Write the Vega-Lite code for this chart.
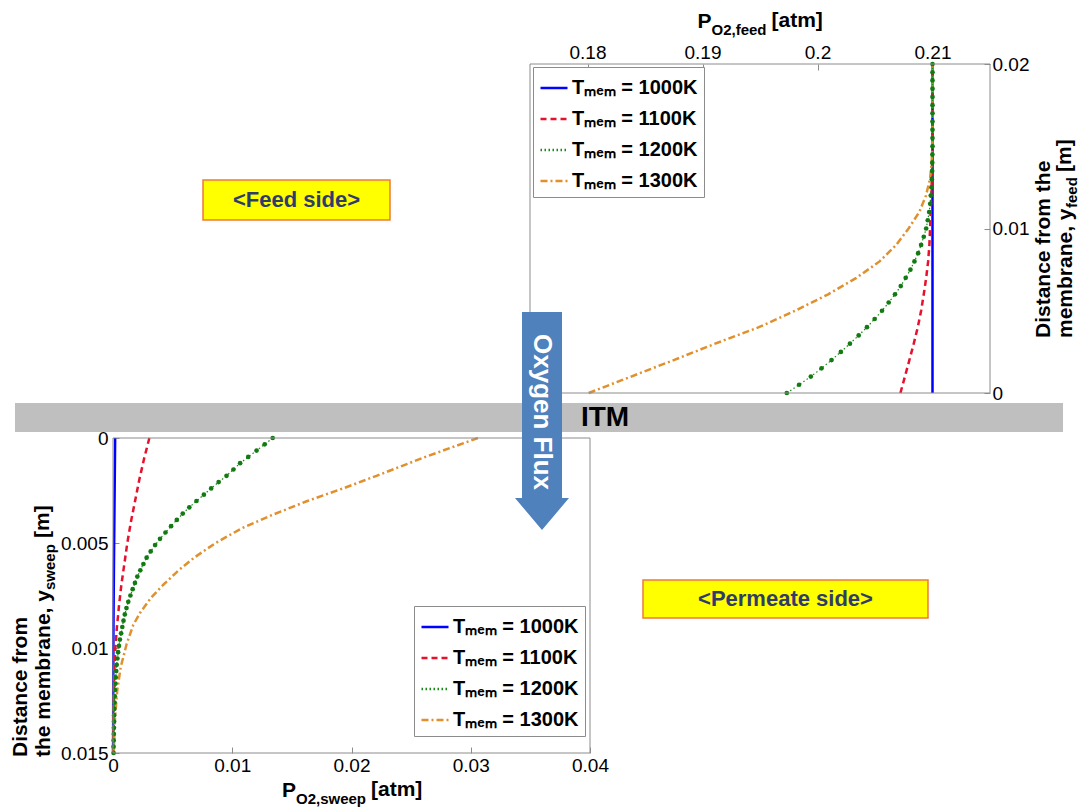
{
  "$schema": "https://vega.github.io/schema/vega-lite/v6.json",
  "width": 1079,
  "height": 811,
  "padding": 0,
  "autosize": {"type": "none"},
  "background": "white",
  "config": {
    "font": "Liberation Sans",
    "view": {"stroke": null},
    "axis": {
      "domain": false,
      "grid": false,
      "ticks": true,
      "tickSize": -6,
      "tickColor": "#8c8c8c",
      "labelPadding": 8,
      "labelFont": "Liberation Sans",
      "labelFontSize": 19,
      "labelColor": "black",
      "labelFlush": false,
      "labelOverlap": false,
      "labelBound": false
    }
  },
  "datasets": {
    "feed": [
      {"T": "1000K", "d": 0, "p": 0.21}, {"T": "1000K", "d": 0.02, "p": 0.21},
      {"T": "1100K", "d": 0, "p": 0.20721}, {"T": "1100K", "d": 0.001, "p": 0.2076}, {"T": "1100K", "d": 0.002, "p": 0.20799},
      {"T": "1100K", "d": 0.003, "p": 0.20837}, {"T": "1100K", "d": 0.004, "p": 0.20872}, {"T": "1100K", "d": 0.005, "p": 0.20901},
      {"T": "1100K", "d": 0.006, "p": 0.20924}, {"T": "1100K", "d": 0.007, "p": 0.20945}, {"T": "1100K", "d": 0.008, "p": 0.20962},
      {"T": "1100K", "d": 0.009, "p": 0.20973}, {"T": "1100K", "d": 0.0107, "p": 0.20983}, {"T": "1100K", "d": 0.0123, "p": 0.20991},
      {"T": "1100K", "d": 0.014, "p": 0.20997}, {"T": "1100K", "d": 0.016, "p": 0.21}, {"T": "1100K", "d": 0.02, "p": 0.21},
      {"T": "1200K", "d": 0, "p": 0.19733}, {"T": "1200K", "d": 0.0005, "p": 0.1984}, {"T": "1200K", "d": 0.001, "p": 0.19942},
      {"T": "1200K", "d": 0.0015, "p": 0.20035}, {"T": "1200K", "d": 0.002, "p": 0.20122}, {"T": "1200K", "d": 0.0025, "p": 0.20203},
      {"T": "1200K", "d": 0.003, "p": 0.20282}, {"T": "1200K", "d": 0.0035, "p": 0.20358}, {"T": "1200K", "d": 0.004, "p": 0.2043},
      {"T": "1200K", "d": 0.0045, "p": 0.20497}, {"T": "1200K", "d": 0.005, "p": 0.20561}, {"T": "1200K", "d": 0.0055, "p": 0.20619},
      {"T": "1200K", "d": 0.006, "p": 0.20674}, {"T": "1200K", "d": 0.0065, "p": 0.20724}, {"T": "1200K", "d": 0.007, "p": 0.20767},
      {"T": "1200K", "d": 0.0075, "p": 0.20808}, {"T": "1200K", "d": 0.008, "p": 0.20843}, {"T": "1200K", "d": 0.0085, "p": 0.20875},
      {"T": "1200K", "d": 0.009, "p": 0.20901}, {"T": "1200K", "d": 0.0095, "p": 0.20924}, {"T": "1200K", "d": 0.01, "p": 0.20945},
      {"T": "1200K", "d": 0.0105, "p": 0.20959}, {"T": "1200K", "d": 0.011, "p": 0.20971}, {"T": "1200K", "d": 0.0115, "p": 0.2098},
      {"T": "1200K", "d": 0.012, "p": 0.20985}, {"T": "1200K", "d": 0.0125, "p": 0.20991}, {"T": "1200K", "d": 0.013, "p": 0.20994},
      {"T": "1200K", "d": 0.0135, "p": 0.20997}, {"T": "1200K", "d": 0.014, "p": 0.20998}, {"T": "1200K", "d": 0.0145, "p": 0.20999},
      {"T": "1200K", "d": 0.015, "p": 0.21}, {"T": "1200K", "d": 0.0155, "p": 0.21}, {"T": "1200K", "d": 0.016, "p": 0.21},
      {"T": "1200K", "d": 0.0165, "p": 0.21}, {"T": "1200K", "d": 0.017, "p": 0.21}, {"T": "1200K", "d": 0.0175, "p": 0.21},
      {"T": "1200K", "d": 0.018, "p": 0.21}, {"T": "1200K", "d": 0.0185, "p": 0.21}, {"T": "1200K", "d": 0.019, "p": 0.21},
      {"T": "1200K", "d": 0.0195, "p": 0.21}, {"T": "1200K", "d": 0.02, "p": 0.21},
      {"T": "1300K", "d": 0, "p": 0.1801}, {"T": "1300K", "d": 0.001, "p": 0.1838}, {"T": "1300K", "d": 0.002, "p": 0.1875},
      {"T": "1300K", "d": 0.003, "p": 0.1911}, {"T": "1300K", "d": 0.004, "p": 0.1949}, {"T": "1300K", "d": 0.005, "p": 0.19806},
      {"T": "1300K", "d": 0.006, "p": 0.20093}, {"T": "1300K", "d": 0.007, "p": 0.20338}, {"T": "1300K", "d": 0.008, "p": 0.2054},
      {"T": "1300K", "d": 0.009, "p": 0.20684}, {"T": "1300K", "d": 0.01, "p": 0.20792}, {"T": "1300K", "d": 0.011, "p": 0.20885},
      {"T": "1300K", "d": 0.012, "p": 0.20943}, {"T": "1300K", "d": 0.013, "p": 0.20978}, {"T": "1300K", "d": 0.014, "p": 0.20993},
      {"T": "1300K", "d": 0.015, "p": 0.20999}, {"T": "1300K", "d": 0.016, "p": 0.21}, {"T": "1300K", "d": 0.02, "p": 0.21}
    ],
    "sweep": [
      {"T": "1000K", "d": 0, "p": 0.00018}, {"T": "1000K", "d": 0.003, "p": 0.00013}, {"T": "1000K", "d": 0.006, "p": 0.00008},
      {"T": "1000K", "d": 0.009, "p": 0.00004}, {"T": "1000K", "d": 0.012, "p": 0.00002}, {"T": "1000K", "d": 0.015, "p": 0.00001},
      {"T": "1100K", "d": 0, "p": 0.00305}, {"T": "1100K", "d": 0.001, "p": 0.0026}, {"T": "1100K", "d": 0.002, "p": 0.0022},
      {"T": "1100K", "d": 0.003, "p": 0.00185}, {"T": "1100K", "d": 0.004, "p": 0.0015}, {"T": "1100K", "d": 0.005, "p": 0.0012},
      {"T": "1100K", "d": 0.006, "p": 0.00095}, {"T": "1100K", "d": 0.007, "p": 0.0007}, {"T": "1100K", "d": 0.008, "p": 0.0005},
      {"T": "1100K", "d": 0.009, "p": 0.00033}, {"T": "1100K", "d": 0.01, "p": 0.0002}, {"T": "1100K", "d": 0.011, "p": 0.00012},
      {"T": "1100K", "d": 0.012, "p": 0.00007}, {"T": "1100K", "d": 0.013, "p": 0.00004}, {"T": "1100K", "d": 0.014, "p": 0.00002},
      {"T": "1100K", "d": 0.015, "p": 0.00001},
      {"T": "1200K", "d": 0, "p": 0.01339}, {"T": "1200K", "d": 0.0003, "p": 0.01272}, {"T": "1200K", "d": 0.0006, "p": 0.01204},
      {"T": "1200K", "d": 0.0009, "p": 0.01134}, {"T": "1200K", "d": 0.0012, "p": 0.01066}, {"T": "1200K", "d": 0.0015, "p": 0.0101},
      {"T": "1200K", "d": 0.0018, "p": 0.00952}, {"T": "1200K", "d": 0.0021, "p": 0.00886}, {"T": "1200K", "d": 0.0024, "p": 0.00823},
      {"T": "1200K", "d": 0.0027, "p": 0.00762}, {"T": "1200K", "d": 0.003, "p": 0.007}, {"T": "1200K", "d": 0.0033, "p": 0.0064},
      {"T": "1200K", "d": 0.0036, "p": 0.00585}, {"T": "1200K", "d": 0.0039, "p": 0.00535}, {"T": "1200K", "d": 0.0042, "p": 0.00487},
      {"T": "1200K", "d": 0.0045, "p": 0.0044}, {"T": "1200K", "d": 0.0048, "p": 0.00394}, {"T": "1200K", "d": 0.0051, "p": 0.00353},
      {"T": "1200K", "d": 0.0054, "p": 0.00316}, {"T": "1200K", "d": 0.0057, "p": 0.00282}, {"T": "1200K", "d": 0.006, "p": 0.00255},
      {"T": "1200K", "d": 0.0063, "p": 0.00229}, {"T": "1200K", "d": 0.0066, "p": 0.00204}, {"T": "1200K", "d": 0.0069, "p": 0.00184},
      {"T": "1200K", "d": 0.0072, "p": 0.00165}, {"T": "1200K", "d": 0.0075, "p": 0.00146}, {"T": "1200K", "d": 0.0078, "p": 0.00128},
      {"T": "1200K", "d": 0.0081, "p": 0.00113}, {"T": "1200K", "d": 0.0084, "p": 0.00099}, {"T": "1200K", "d": 0.0087, "p": 0.00088},
      {"T": "1200K", "d": 0.009, "p": 0.00078}, {"T": "1200K", "d": 0.0093, "p": 0.00068}, {"T": "1200K", "d": 0.0096, "p": 0.00058},
      {"T": "1200K", "d": 0.0099, "p": 0.0005}, {"T": "1200K", "d": 0.0102, "p": 0.00043}, {"T": "1200K", "d": 0.0105, "p": 0.00037},
      {"T": "1200K", "d": 0.0108, "p": 0.00031}, {"T": "1200K", "d": 0.0111, "p": 0.00027}, {"T": "1200K", "d": 0.0114, "p": 0.00023},
      {"T": "1200K", "d": 0.0117, "p": 0.0002}, {"T": "1200K", "d": 0.012, "p": 0.00017}, {"T": "1200K", "d": 0.0123, "p": 0.00015},
      {"T": "1200K", "d": 0.0126, "p": 0.00013}, {"T": "1200K", "d": 0.0129, "p": 0.00011}, {"T": "1200K", "d": 0.0132, "p": 0.0001},
      {"T": "1200K", "d": 0.0135, "p": 0.00009}, {"T": "1200K", "d": 0.0138, "p": 0.00008}, {"T": "1200K", "d": 0.0141, "p": 0.00007},
      {"T": "1200K", "d": 0.0144, "p": 0.00006}, {"T": "1200K", "d": 0.0147, "p": 0.00005}, {"T": "1200K", "d": 0.015, "p": 0.00005},
      {"T": "1300K", "d": 0, "p": 0.0306}, {"T": "1300K", "d": 0.0009, "p": 0.0262}, {"T": "1300K", "d": 0.0018, "p": 0.0221},
      {"T": "1300K", "d": 0.0024, "p": 0.0193}, {"T": "1300K", "d": 0.003, "p": 0.0163}, {"T": "1300K", "d": 0.0037, "p": 0.0132},
      {"T": "1300K", "d": 0.0043, "p": 0.0108}, {"T": "1300K", "d": 0.005, "p": 0.0086}, {"T": "1300K", "d": 0.0057, "p": 0.0068},
      {"T": "1300K", "d": 0.0063, "p": 0.0055}, {"T": "1300K", "d": 0.007, "p": 0.0042}, {"T": "1300K", "d": 0.0076, "p": 0.0032},
      {"T": "1300K", "d": 0.0083, "p": 0.0023}, {"T": "1300K", "d": 0.0089, "p": 0.0017}, {"T": "1300K", "d": 0.0098, "p": 0.00115},
      {"T": "1300K", "d": 0.0109, "p": 0.00065}, {"T": "1300K", "d": 0.012, "p": 0.00036}, {"T": "1300K", "d": 0.0133, "p": 0.00017},
      {"T": "1300K", "d": 0.0147, "p": 0.00008}, {"T": "1300K", "d": 0.015, "p": 0.00007}
    ]
  },
  "layer": [
    {
      "layer": [
        {
          "data": {"name": "feed"},
          "transform": [{"filter": "datum.T !== '1200K'"}],
          "mark": {"type": "line", "strokeWidth": 2.5, "strokeCap": "butt"},
          "encoding": {
            "x": {"field": "p", "type": "quantitative",
              "scale": {"domain": [0.175, 0.215], "range": [530, 990], "zero": false, "nice": false},
              "axis": {"orient": "top", "offset": -64, "values": [0.18, 0.19, 0.2, 0.21], "format": ".2~f", "title": null}},
            "y": {"field": "d", "type": "quantitative",
              "scale": {"domain": [0, 0.02], "range": [393, 64], "zero": false, "nice": false},
              "axis": {"orient": "right", "offset": -89, "values": [0, 0.01, 0.02], "format": "~g", "title": null}},
            "order": {"field": "d", "type": "quantitative"},
            "color": {"field": "T", "type": "nominal",
              "scale": {"domain": ["1000K", "1100K", "1200K", "1300K"], "range": ["#0000ff", "#e8112d", "#178a17", "#e0902c"]},
              "legend": {"orient": "none", "legendX": 533, "legendY": 67, "title": null, "symbolType": "stroke", "symbolSize": 729, "symbolStrokeWidth": 2.5,
                "labelFont": "Liberation Sans", "labelFontSize": 20, "labelFontWeight": "bold", "labelColor": "black", "labelLimit": 400,
                "labelExpr": "'T\u2098\u2091\u2098 = ' + datum.label", "fillColor": "white", "strokeColor": "#8c8c8c", "padding": 6, "rowPadding": 6, "labelOffset": 3}},
            "strokeDash": {"field": "T", "type": "nominal",
              "scale": {"domain": ["1000K", "1100K", "1200K", "1300K"], "range": [[1, 0], [6, 4], [1.5, 2.5], [7, 3, 2, 3]]},
              "legend": {"orient": "none", "legendX": 533, "legendY": 67, "title": null, "symbolType": "stroke", "symbolSize": 729, "symbolStrokeWidth": 2.5,
                "labelFont": "Liberation Sans", "labelFontSize": 20, "labelFontWeight": "bold", "labelColor": "black", "labelLimit": 400,
                "labelExpr": "'T\u2098\u2091\u2098 = ' + datum.label", "fillColor": "white", "strokeColor": "#8c8c8c", "padding": 6, "rowPadding": 6, "labelOffset": 3}}
          }
        },
        {
          "data": {"name": "feed"},
          "transform": [{"filter": "datum.T === '1200K'"}],
          "mark": {"type": "line", "strokeWidth": 1.2},
          "encoding": {
            "x": {"field": "p", "type": "quantitative"},
            "y": {"field": "d", "type": "quantitative"},
            "order": {"field": "d", "type": "quantitative"},
            "color": {"field": "T", "type": "nominal"},
            "strokeDash": {"field": "T", "type": "nominal"}
          }
        },
        {
          "data": {"name": "feed"},
          "transform": [{"filter": "datum.T === '1200K'"}],
          "mark": {"type": "circle", "size": 22, "color": "#127a12", "opacity": 1},
          "encoding": {
            "x": {"field": "p", "type": "quantitative"},
            "y": {"field": "d", "type": "quantitative"}
          }
        },
        {
          "data": {"values": [{}]},
          "mark": {"type": "rect", "filled": false, "stroke": "#8c8c8c", "strokeWidth": 1},
          "encoding": {
            "x": {"datum": 0.175, "type": "quantitative"}, "x2": {"datum": 0.215},
            "y": {"datum": 0, "type": "quantitative"}, "y2": {"datum": 0.02}
          }
        },
        {
          "data": {"values": [{}]},
          "mark": {"type": "rect", "fill": "#ffff00", "stroke": "#ee7a3a", "strokeWidth": 1.5},
          "encoding": {
            "x": {"datum": 0.146565, "type": "quantitative"}, "x2": {"datum": 0.162826},
            "y": {"datum": 0.012948, "type": "quantitative"}, "y2": {"datum": 0.010517}
          }
        },
        {
          "data": {"values": [{}]},
          "mark": {"type": "text", "text": "<Feed side>", "font": "Liberation Sans", "fontSize": 22, "fontWeight": "bold", "color": "#2f3b6b", "align": "center", "baseline": "middle"},
          "encoding": {"x": {"datum": 0.154696, "type": "quantitative"}, "y": {"datum": 0.011733, "type": "quantitative"}}
        },
        {
          "data": {"values": [{}]},
          "mark": {"type": "text", "text": "P", "font": "Liberation Sans", "fontSize": 21, "fontWeight": "bold", "color": "black", "align": "left", "baseline": "alphabetic"},
          "encoding": {"x": {"datum": 0.189565, "type": "quantitative"}, "y": {"datum": 0.022188, "type": "quantitative"}}
        },
        {
          "data": {"values": [{}]},
          "mark": {"type": "text", "text": "O2,feed", "font": "Liberation Sans", "fontSize": 15, "fontWeight": "bold", "color": "black", "align": "left", "baseline": "alphabetic", "dx": 14, "dy": 7},
          "encoding": {"x": {"datum": 0.189565, "type": "quantitative"}, "y": {"datum": 0.022188, "type": "quantitative"}}
        },
        {
          "data": {"values": [{}]},
          "mark": {"type": "text", "text": "[atm]", "font": "Liberation Sans", "fontSize": 21, "fontWeight": "bold", "color": "black", "align": "left", "baseline": "alphabetic", "dx": 74, "dy": -1},
          "encoding": {"x": {"datum": 0.189565, "type": "quantitative"}, "y": {"datum": 0.022188, "type": "quantitative"}}
        },
        {
          "data": {"values": [{}]},
          "mark": {"type": "text", "text": "Distance from the", "font": "Liberation Sans", "fontSize": 21, "fontWeight": "bold", "color": "black", "align": "left", "baseline": "alphabetic", "angle": 270},
          "encoding": {"x": {"datum": 0.220174, "type": "quantitative"}, "y": {"datum": 0.003343, "type": "quantitative"}}
        },
        {
          "data": {"values": [{}]},
          "mark": {"type": "text", "text": "membrane, y", "font": "Liberation Sans", "fontSize": 21, "fontWeight": "bold", "color": "black", "align": "left", "baseline": "alphabetic", "angle": 270},
          "encoding": {"x": {"datum": 0.222087, "type": "quantitative"}, "y": {"datum": 0.003343, "type": "quantitative"}}
        },
        {
          "data": {"values": [{}]},
          "mark": {"type": "text", "text": "feed", "font": "Liberation Sans", "fontSize": 15, "fontWeight": "bold", "color": "black", "align": "left", "baseline": "alphabetic", "angle": 270, "dx": 130, "dy": 5},
          "encoding": {"x": {"datum": 0.222087, "type": "quantitative"}, "y": {"datum": 0.003343, "type": "quantitative"}}
        },
        {
          "data": {"values": [{}]},
          "mark": {"type": "text", "text": "[m]", "font": "Liberation Sans", "fontSize": 21, "fontWeight": "bold", "color": "black", "align": "left", "baseline": "alphabetic", "angle": 270, "dx": 166, "dy": -1},
          "encoding": {"x": {"datum": 0.222087, "type": "quantitative"}, "y": {"datum": 0.003343, "type": "quantitative"}}
        }
      ]
    },
    {
      "layer": [
        {
          "data": {"name": "sweep"},
          "transform": [{"filter": "datum.T !== '1200K'"}],
          "mark": {"type": "line", "strokeWidth": 2.5, "strokeCap": "butt"},
          "encoding": {
            "x": {"field": "p", "type": "quantitative",
              "scale": {"domain": [0, 0.04], "range": [113, 590], "zero": false, "nice": false},
              "axis": {"orient": "bottom", "offset": -58, "values": [0, 0.01, 0.02, 0.03, 0.04], "format": "~g", "title": null, "labelPadding": 9}},
            "y": {"field": "d", "type": "quantitative",
              "scale": {"domain": [0, 0.015], "range": [438, 753], "zero": false, "nice": false},
              "axis": {"orient": "left", "offset": -113, "values": [0, 0.005, 0.01, 0.015], "format": "~g", "title": null, "labelPadding": 11}},
            "order": {"field": "d", "type": "quantitative"},
            "color": {"field": "T", "type": "nominal",
              "scale": {"domain": ["1000K", "1100K", "1200K", "1300K"], "range": ["#0000ff", "#e8112d", "#178a17", "#e0902c"]},
              "legend": {"orient": "none", "legendX": 414, "legendY": 606, "title": null, "symbolType": "stroke", "symbolSize": 729, "symbolStrokeWidth": 2.5,
                "labelFont": "Liberation Sans", "labelFontSize": 20, "labelFontWeight": "bold", "labelColor": "black", "labelLimit": 400,
                "labelExpr": "'T\u2098\u2091\u2098 = ' + datum.label", "fillColor": "white", "strokeColor": "#8c8c8c", "padding": 6, "rowPadding": 6, "labelOffset": 3}},
            "strokeDash": {"field": "T", "type": "nominal",
              "scale": {"domain": ["1000K", "1100K", "1200K", "1300K"], "range": [[1, 0], [6, 4], [1.5, 2.5], [7, 3, 2, 3]]},
              "legend": {"orient": "none", "legendX": 414, "legendY": 606, "title": null, "symbolType": "stroke", "symbolSize": 729, "symbolStrokeWidth": 2.5,
                "labelFont": "Liberation Sans", "labelFontSize": 20, "labelFontWeight": "bold", "labelColor": "black", "labelLimit": 400,
                "labelExpr": "'T\u2098\u2091\u2098 = ' + datum.label", "fillColor": "white", "strokeColor": "#8c8c8c", "padding": 6, "rowPadding": 6, "labelOffset": 3}}
          }
        },
        {
          "data": {"name": "sweep"},
          "transform": [{"filter": "datum.T === '1200K'"}],
          "mark": {"type": "line", "strokeWidth": 1.2},
          "encoding": {
            "x": {"field": "p", "type": "quantitative"},
            "y": {"field": "d", "type": "quantitative"},
            "order": {"field": "d", "type": "quantitative"},
            "color": {"field": "T", "type": "nominal"},
            "strokeDash": {"field": "T", "type": "nominal"}
          }
        },
        {
          "data": {"name": "sweep"},
          "transform": [{"filter": "datum.T === '1200K'"}],
          "mark": {"type": "circle", "size": 22, "color": "#127a12", "opacity": 1},
          "encoding": {
            "x": {"field": "p", "type": "quantitative"},
            "y": {"field": "d", "type": "quantitative"}
          }
        },
        {
          "data": {"values": [{}]},
          "mark": {"type": "rect", "filled": false, "stroke": "#8c8c8c", "strokeWidth": 1},
          "encoding": {
            "x": {"datum": 0, "type": "quantitative"}, "x2": {"datum": 0.04},
            "y": {"datum": 0, "type": "quantitative"}, "y2": {"datum": 0.015}
          }
        },
        {
          "data": {"values": [{}]},
          "mark": {"type": "rect", "fill": "#bfbfbf"},
          "encoding": {
            "x": {"datum": -0.008218, "type": "quantitative"}, "x2": {"datum": 0.079665},
            "y": {"datum": -0.0016667, "type": "quantitative"}, "y2": {"datum": -0.0002857}
          }
        },
        {
          "data": {"values": [{}]},
          "mark": {"type": "text", "text": "ITM", "font": "Liberation Sans", "fontSize": 28, "fontWeight": "bold", "color": "black", "align": "center", "baseline": "middle"},
          "encoding": {"x": {"datum": 0.041258, "type": "quantitative"}, "y": {"datum": -0.000952, "type": "quantitative"}}
        },
        {
          "data": {"values": [{}]},
          "mark": {"type": "point", "shape": "M-0.1835,-1L0.1835,-1L0.1835,0.7064L0.2477,0.7064L0,1L-0.2477,0.7064L-0.1835,0.7064Z", "size": 47524, "filled": true, "fill": "#4f81bd", "opacity": 1, "strokeWidth": 0},
          "encoding": {"x": {"datum": 0.035975, "type": "quantitative"}, "y": {"datum": -0.00081, "type": "quantitative"}}
        },
        {
          "data": {"values": [{}]},
          "mark": {"type": "text", "text": "Oxygen Flux", "font": "Liberation Sans", "fontSize": 26, "fontWeight": "bold", "color": "white", "align": "center", "baseline": "middle", "angle": 90},
          "encoding": {"x": {"datum": 0.035975, "type": "quantitative"}, "y": {"datum": -0.001238, "type": "quantitative"}}
        },
        {
          "data": {"values": [{}]},
          "mark": {"type": "rect", "fill": "#ffff00", "stroke": "#ee7a3a", "strokeWidth": 1.5},
          "encoding": {
            "x": {"datum": 0.044444, "type": "quantitative"}, "x2": {"datum": 0.068344},
            "y": {"datum": 0.006762, "type": "quantitative"}, "y2": {"datum": 0.008571}
          }
        },
        {
          "data": {"values": [{}]},
          "mark": {"type": "text", "text": "<Permeate side>", "font": "Liberation Sans", "fontSize": 22, "fontWeight": "bold", "color": "#2f3b6b", "align": "center", "baseline": "middle"},
          "encoding": {"x": {"datum": 0.056394, "type": "quantitative"}, "y": {"datum": 0.007667, "type": "quantitative"}}
        },
        {
          "data": {"values": [{}]},
          "mark": {"type": "text", "text": "P", "font": "Liberation Sans", "fontSize": 21, "fontWeight": "bold", "color": "black", "align": "left", "baseline": "alphabetic"},
          "encoding": {"x": {"datum": 0.014172, "type": "quantitative"}, "y": {"datum": 0.017095, "type": "quantitative"}}
        },
        {
          "data": {"values": [{}]},
          "mark": {"type": "text", "text": "O2,sweep", "font": "Liberation Sans", "fontSize": 15, "fontWeight": "bold", "color": "black", "align": "left", "baseline": "alphabetic", "dx": 14, "dy": 7},
          "encoding": {"x": {"datum": 0.014172, "type": "quantitative"}, "y": {"datum": 0.017095, "type": "quantitative"}}
        },
        {
          "data": {"values": [{}]},
          "mark": {"type": "text", "text": "[atm]", "font": "Liberation Sans", "fontSize": 21, "fontWeight": "bold", "color": "black", "align": "left", "baseline": "alphabetic", "dx": 89, "dy": -1},
          "encoding": {"x": {"datum": 0.014172, "type": "quantitative"}, "y": {"datum": 0.017095, "type": "quantitative"}}
        },
        {
          "data": {"values": [{}]},
          "mark": {"type": "text", "text": "Distance from", "font": "Liberation Sans", "fontSize": 21, "fontWeight": "bold", "color": "black", "align": "left", "baseline": "alphabetic", "angle": 270},
          "encoding": {"x": {"datum": -0.00717, "type": "quantitative"}, "y": {"datum": 0.01519, "type": "quantitative"}}
        },
        {
          "data": {"values": [{}]},
          "mark": {"type": "text", "text": "the membrane, y", "font": "Liberation Sans", "fontSize": 21, "fontWeight": "bold", "color": "black", "align": "left", "baseline": "alphabetic", "angle": 270},
          "encoding": {"x": {"datum": -0.005283, "type": "quantitative"}, "y": {"datum": 0.01519, "type": "quantitative"}}
        },
        {
          "data": {"values": [{}]},
          "mark": {"type": "text", "text": "sweep", "font": "Liberation Sans", "fontSize": 15, "fontWeight": "bold", "color": "black", "align": "left", "baseline": "alphabetic", "angle": 270, "dx": 167, "dy": 5},
          "encoding": {"x": {"datum": -0.005283, "type": "quantitative"}, "y": {"datum": 0.01519, "type": "quantitative"}}
        },
        {
          "data": {"values": [{}]},
          "mark": {"type": "text", "text": "[m]", "font": "Liberation Sans", "fontSize": 21, "fontWeight": "bold", "color": "black", "align": "left", "baseline": "alphabetic", "angle": 270, "dx": 219, "dy": -1},
          "encoding": {"x": {"datum": -0.005283, "type": "quantitative"}, "y": {"datum": 0.01519, "type": "quantitative"}}
        }
      ]
    }
  ],
  "resolve": {
    "scale": {"x": "independent", "y": "independent", "color": "independent", "strokeDash": "independent"},
    "axis": {"x": "independent", "y": "independent"},
    "legend": {"color": "independent", "strokeDash": "independent"}
  }
}
